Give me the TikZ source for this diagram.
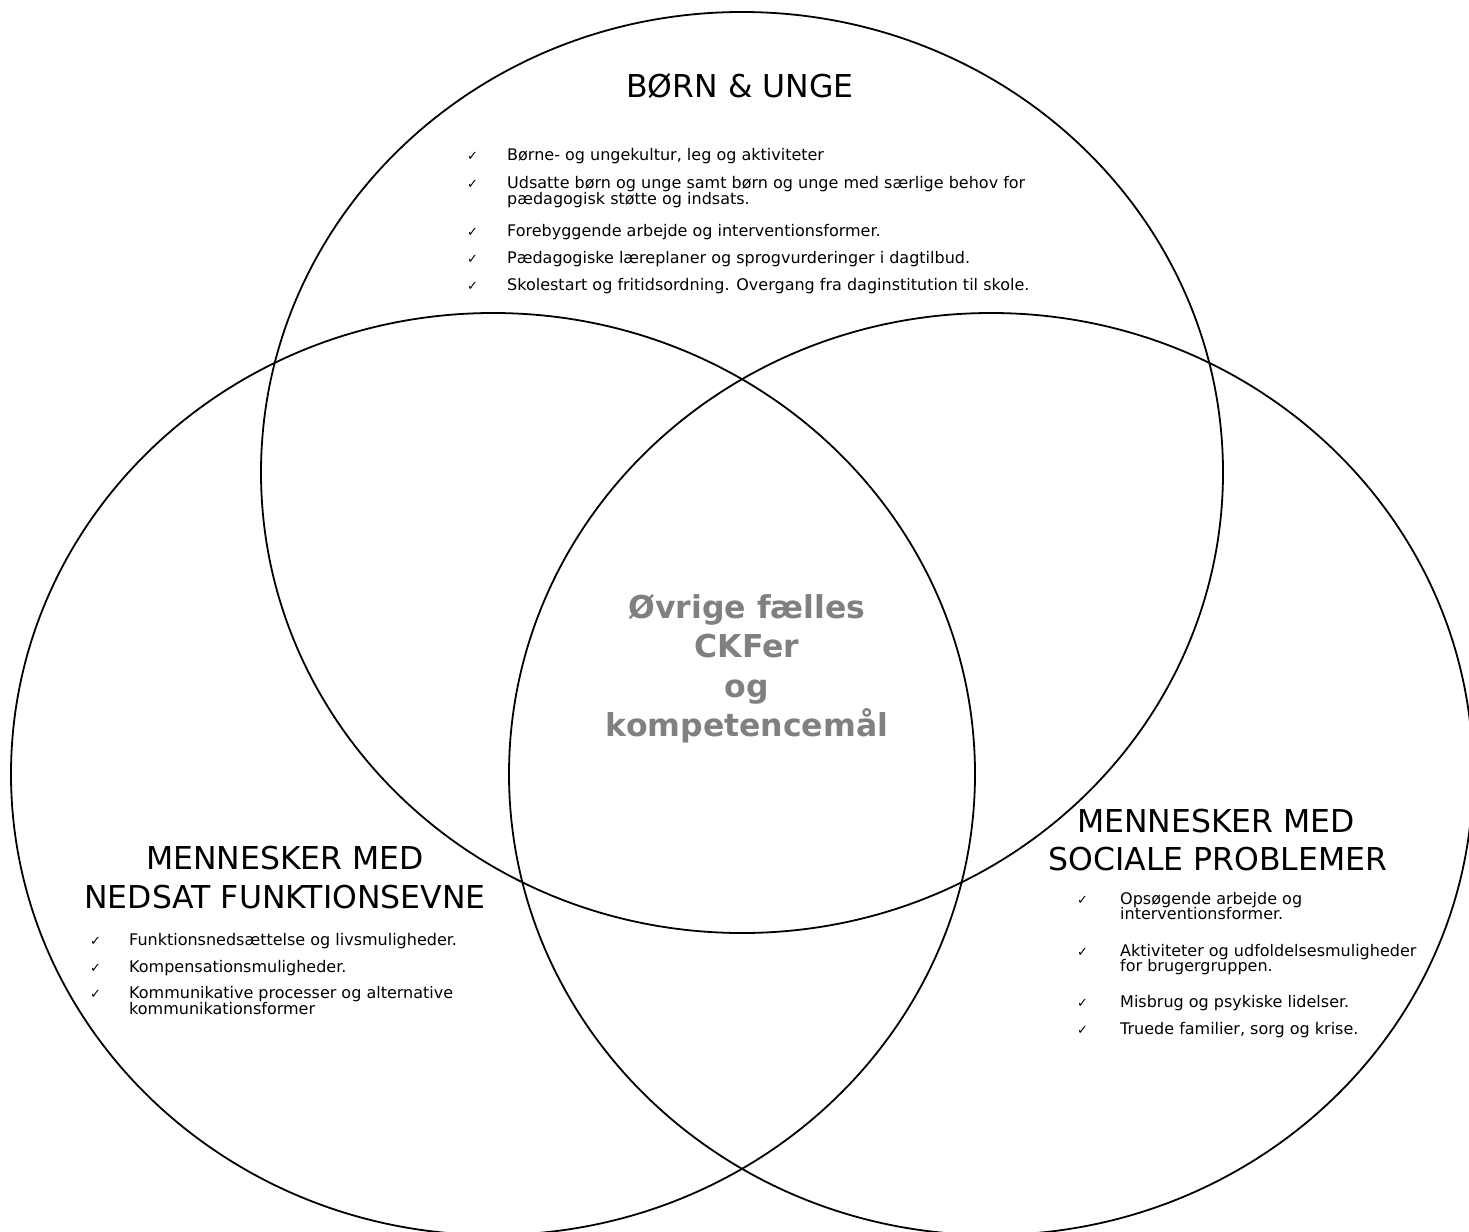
\documentclass[tikz,border=0pt]{standalone}
\usepackage{fontspec}
\setmainfont{DejaVu Sans}
\definecolor{coregray}{RGB}{128,128,128}
\begin{document}
\begin{tikzpicture}[x=1pt,y=-1pt,
  ring/.style={draw=black,line width=1.8pt},
  itemtxt/.style={anchor=base west,inner sep=0pt,font=\fontsize{16}{17}\selectfont},
  tick/.style={anchor=base west,inner sep=0pt,font=\fontsize{13}{14}\selectfont},
  head/.style={anchor=base,inner sep=0pt,font=\fontsize{31.5}{39}\selectfont},
  core/.style={anchor=base,inner sep=0pt,text=coregray,font=\bfseries\fontsize{31.5}{39.5}\selectfont}]
\useasboundingbox (0,0) rectangle (1469,1231);
\clip (0,0) rectangle (1469,1231);
\fill[white] (0,0) rectangle (1469,1231);
% circles
\draw[ring] (742,472.5) ellipse [x radius=481, y radius=460.5];
\draw[ring] (493,774) ellipse [x radius=482, y radius=461];
\draw[ring] (991,774) ellipse [x radius=482, y radius=461];
% top set
\node[head] (tTitle) at (740,97) {BØRN \& UNGE};
\node[tick] (tk1) at (467,160) {✓};
\node[itemtxt] (t1) at (507,160) {Børne- og ungekultur, leg og aktiviteter};
\node[tick] (tk2) at (467,188) {✓};
\node[itemtxt] (t2a) at (507,188) {Udsatte børn og unge samt børn og unge med særlige behov for};
\node[itemtxt] (t2b) at (507,204) {pædagogisk støtte og indsats.};
\node[tick] (tk3) at (467,236) {✓};
\node[itemtxt] (t3) at (507,236) {Forebyggende arbejde og interventionsformer.};
\node[tick] (tk4) at (467,263) {✓};
\node[itemtxt] (t4) at (507,263) {Pædagogiske læreplaner og sprogvurderinger i dagtilbud.};
\node[tick] (tk5) at (467,290) {✓};
\node[itemtxt] (t5) at (507,290) {Skolestart og fritidsordning. Overgang fra daginstitution til skole.};
% left set
\node[head] (lTitleA) at (285,869) {MENNESKER MED};
\node[head] (lTitleB) at (285,908) {NEDSAT FUNKTIONSEVNE};
\node[tick] (lk1) at (90,945) {✓};
\node[itemtxt] (l1) at (129,945) {Funktionsnedsættelse og livsmuligheder.};
\node[tick] (lk2) at (90,972) {✓};
\node[itemtxt] (l2) at (129,972) {Kompensationsmuligheder.};
\node[tick] (lk3) at (90,998) {✓};
\node[itemtxt] (l3a) at (129,998) {Kommunikative processer og alternative};
\node[itemtxt] (l3b) at (129,1014) {kommunikationsformer};
% right set
\node[head] (rTitleA) at (1216,832) {MENNESKER MED};
\node[head] (rTitleB) at (1218,870) {SOCIALE PROBLEMER};
\node[tick] (rk1) at (1077,904) {✓};
\node[itemtxt] (r1a) at (1120,904) {Opsøgende arbejde og};
\node[itemtxt] (r1b) at (1120,919) {interventionsformer.};
\node[tick] (rk2) at (1077,956) {✓};
\node[itemtxt] (r2a) at (1120,956) {Aktiviteter og udfoldelsesmuligheder};
\node[itemtxt] (r2b) at (1120,971) {for brugergruppen.};
\node[tick] (rk3) at (1077,1007) {✓};
\node[itemtxt] (r3) at (1120,1007) {Misbrug og psykiske lidelser.};
\node[tick] (rk4) at (1077,1034) {✓};
\node[itemtxt] (r4) at (1120,1034) {Truede familier, sorg og krise.};
% centre
\node[core] (c1) at (747,618) {Øvrige fælles};
\node[core] (c2) at (747,657.5) {CKFer};
\node[core] (c3) at (747,697) {og};
\node[core] (c4) at (747,736) {kompetencemål};
\end{tikzpicture}
\end{document}
